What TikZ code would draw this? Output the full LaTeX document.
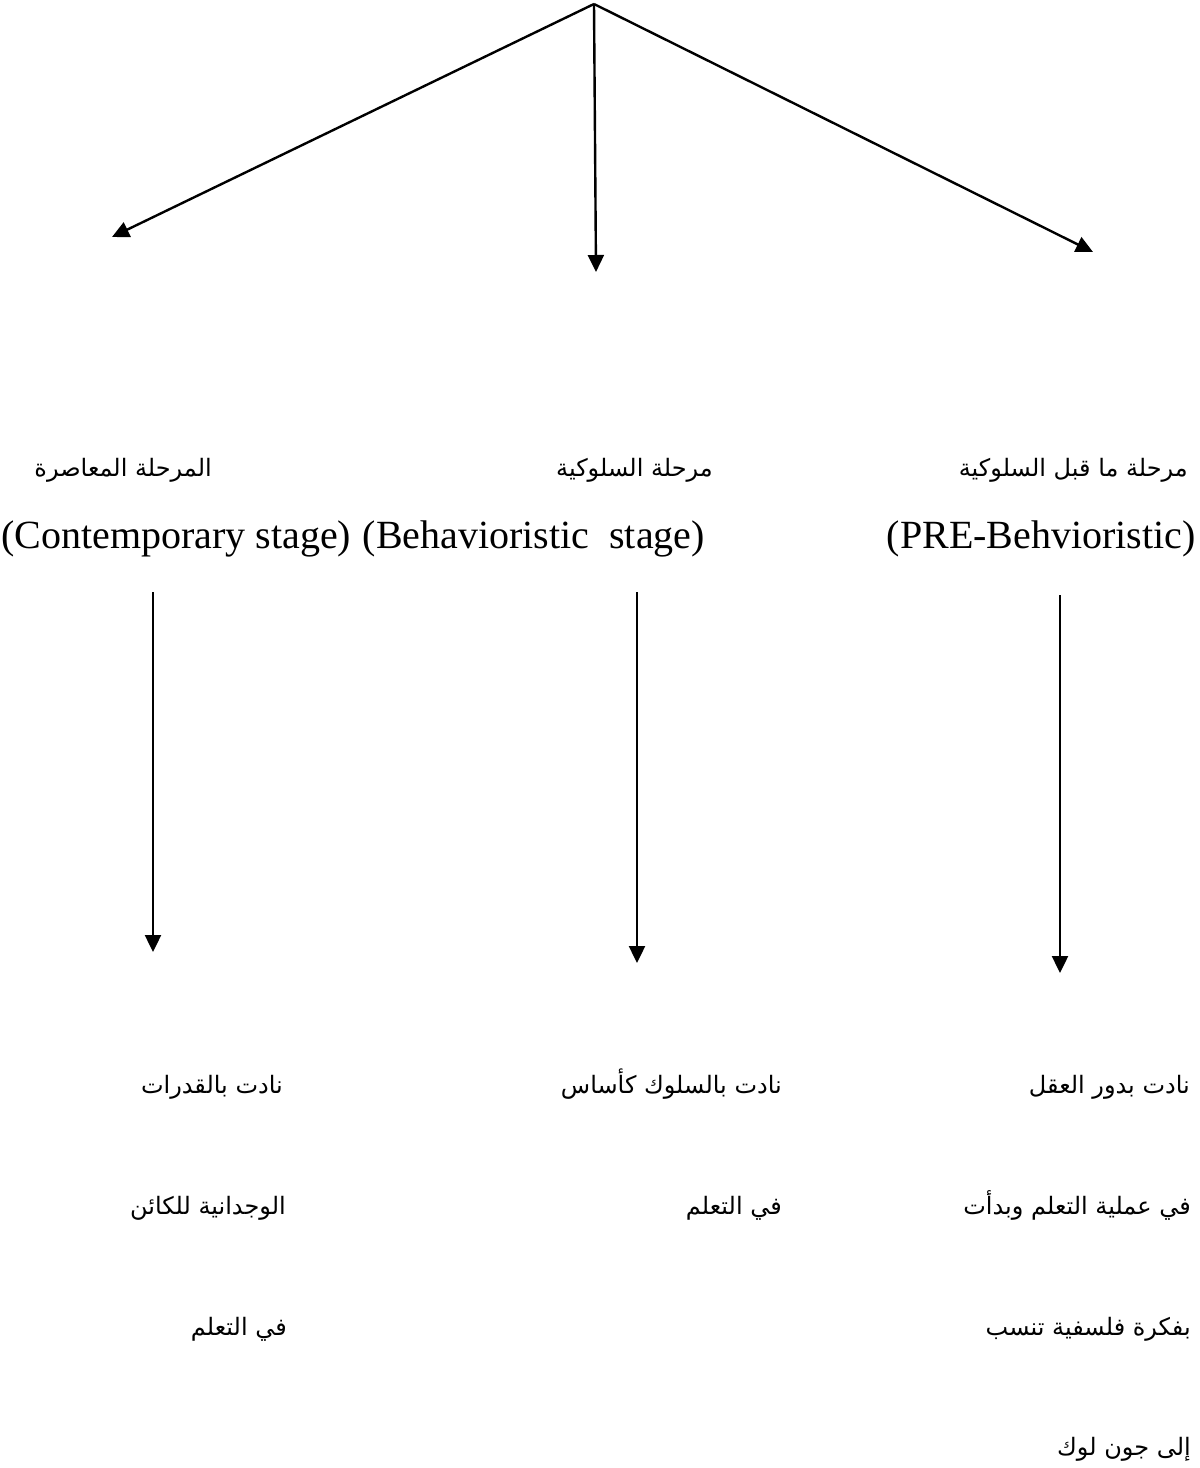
\documentclass[tikz,border=0pt]{standalone}
\usepackage{fontspec}
\setmainfont{Liberation Serif}
\newfontfamily\arabicfont[Script=Arabic]{DejaVu Sans}
\TeXXeTstate=1
\usetikzlibrary{arrows.meta}
\tikzset{
  artext/.style={font=\arabicfont\fontsize{24}{28}\selectfont, anchor=base east, inner sep=0pt},
  lattext/.style={font=\fontsize{40}{48}\selectfont, inner sep=0pt},
  link/.style={line width=2.4pt, -{Triangle[width=16pt,length=17pt]}}
}
\begin{document}
\begin{tikzpicture}[x=1pt,y=-1pt]
\useasboundingbox (0,0) rectangle (1200,1468);

% branching at the top
\coordinate (apex) at (594,4);
\coordinate (tipL) at (112,237);
\coordinate (tipM) at (596,272);
\coordinate (tipR) at (1093,252);
\draw[link] (apex) -- (tipL);
\draw[link] (apex) -- (tipM);
\draw[link] (apex) -- (tipR);

% stage names
\node[artext] (stageL) at (212,476) {\beginR المرحلة المعاصرة\endR};
\node[artext] (stageM) at (713,476) {\beginR مرحلة السلوكية\endR};
\node[artext] (stageR) at (1188,476) {\beginR مرحلة ما قبل السلوكية\endR};

\node[lattext, anchor=base west] (engL) at (1,548) {(Contemporary stage)};
\node[lattext, anchor=base east] (engM) at (705,548) {(Behavioristic\ \ stage)};
\node[lattext, anchor=base east] (engR) at (1196,548) {(PRE-Behvioristic)};

% arrows down to the descriptions
\coordinate (startL) at (153,592);
\coordinate (endL) at (153,952);
\coordinate (startM) at (637,592);
\coordinate (endM) at (637,963);
\coordinate (startR) at (1060,595);
\coordinate (endR) at (1060,973);
\draw[link] (startL) -- (endL);
\draw[link] (startM) -- (endM);
\draw[link] (startR) -- (endR);

% descriptions
\node[artext] (descL1) at (283,1093) {\beginR نادت بالقدرات\endR};
\node[artext] (descL2) at (286,1214) {\beginR الوجدانية للكائن\endR};
\node[artext] (descL3) at (287,1335) {\beginR في التعلم\endR};

\node[artext] (descM1) at (782,1093) {\beginR نادت بالسلوك كأساس\endR};
\node[artext] (descM2) at (782,1214) {\beginR في التعلم\endR};

\node[artext] (descR1) at (1190,1093) {\beginR نادت بدور العقل\endR};
\node[artext] (descR2) at (1191,1214) {\beginR في عملية التعلم وبدأت\endR};
\node[artext] (descR3) at (1191,1335) {\beginR بفكرة فلسفية تنسب\endR};
\node[artext] (descR4) at (1191,1455) {\beginR إلى جون لوك\endR};
\end{tikzpicture}
\end{document}
